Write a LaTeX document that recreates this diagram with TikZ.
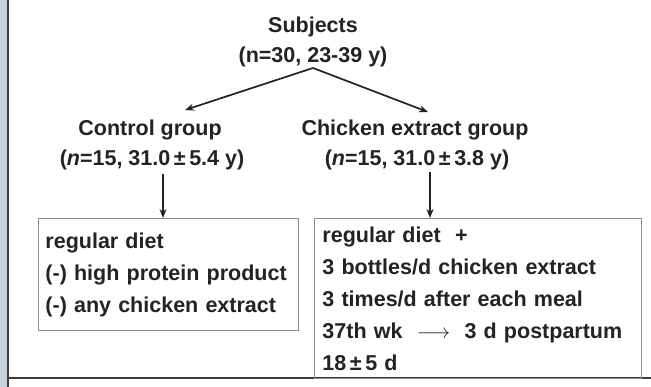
\documentclass[tikz,border=0pt]{standalone}
\usepackage{fontspec}
\setmainfont{Liberation Sans}
\usetikzlibrary{arrows.meta}
\definecolor{ink}{HTML}{232323}
\definecolor{boxline}{HTML}{8C8C8C}
\definecolor{strip}{HTML}{CDD2D9}
\definecolor{frameline}{HTML}{3C3C3C}
\begin{document}
\begin{tikzpicture}[x=1pt,y=-1pt,
  lbl/.style={font=\bfseries\fontsize{21.5}{26}\selectfont, text=ink, inner sep=0pt},
  boxnode/.style={draw=boxline, line width=0.9pt, anchor=north west, align=left,
    font=\bfseries\fontsize{21.5}{32}\selectfont, text=ink, inner ysep=0pt},
  arr/.style={draw=ink, line width=1.7pt, -{Stealth[length=9pt,width=7pt]}},
  frame/.style={draw=frameline, line width=1.5pt}]
\useasboundingbox (0,0) rectangle (651,387);
\fill[white] (0,0) rectangle (651,387);
\fill[strip] (0,0) rectangle (8,387);
\draw[frame] (8,0) -- (8,387);
\draw[frame] (8,378) -- (651,378);

\node[lbl] (subj) at (313,27) {Subjects};
\node[lbl] (subjn) at (313,57) {(n=30, 23-39 y)};
\node[lbl] (ctrl) at (150,130) {Control group};
\node[lbl] (ctrln) at (152,160) {(\textit{n}=15, 31.0\,±\,5.4 y)};
\node[lbl] (chick) at (415,130) {Chicken extract group};
\node[lbl] (chickn) at (417,160) {(\textit{n}=15, 31.0\,±\,3.8 y)};

\node[boxnode, minimum width=260pt, minimum height=112pt, text width=246pt, inner xsep=7pt] (lbox) at (38,218)
  {regular diet\\(-) high protein product\\(-) any chicken extract};
\node[boxnode, minimum width=327pt, minimum height=160pt, text width=311pt, inner xsep=8pt] (rbox) at (314,218)
  {regular diet\ \ +\\3 bottles/d chicken extract\\3 times/d after each meal\\37th wk \ $\longrightarrow$\ \ 3 d postpartum\\18\,±\,5 d};

\coordinate (apex) at (313,68);
\coordinate (tipL) at (185,110);
\coordinate (tipR) at (428,112);
\draw[arr] (apex) -- (tipL);
\draw[arr] (apex) -- (tipR);
\draw[arr] (ctrln.south -| 163,0) ++(0,4) -- (lbox.north -| 163,0);
\draw[arr] (chickn.south -| 430,0) ++(0,2) -- (rbox.north -| 430,0);
\end{tikzpicture}
\end{document}
